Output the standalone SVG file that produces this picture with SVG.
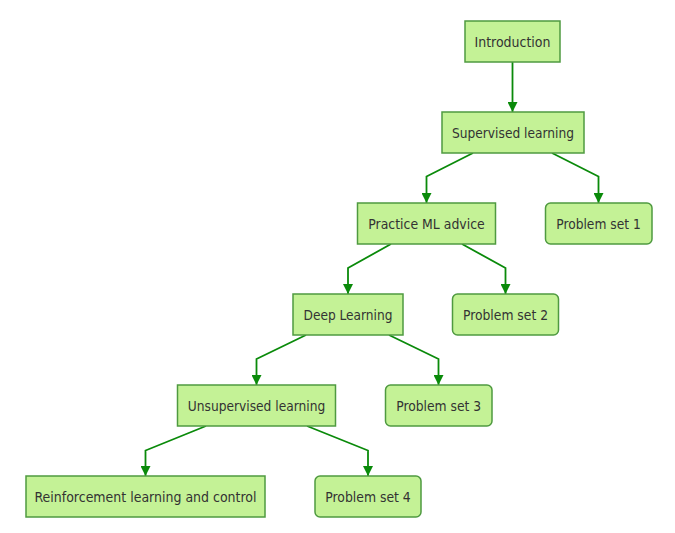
<svg xmlns="http://www.w3.org/2000/svg" width="675" height="533" viewBox="0 0 675 533">
<defs>
<marker id="arr" markerUnits="userSpaceOnUse" markerWidth="10" markerHeight="10" viewBox="0 0 10 10" refX="10" refY="5" orient="auto">
<path d="M0,0 L10,5 L0,10 Z" fill="#0a8a0a"/>
</marker>
<style>
.n rect{fill:#c4f296;stroke:#4f9a40;stroke-width:1.5}
.n text{font-family:"DejaVu Sans Condensed","DejaVu Sans",sans-serif;font-size:14px;fill:#333;text-anchor:middle}
.e path{fill:none;stroke:#0a8a0a;stroke-width:1.8;marker-end:url(#arr)}
</style>
</defs>
<rect width="675" height="533" fill="#fff"/>
<g class="e" id="connectors">
<path d="M512.5,62 L512.5,112"/>
<path d="M473,153 L426.5,176.5 L426.5,203"/>
<path d="M552,153 L598.5,176.5 L598.5,203"/>
<path d="M391,244 L348,268 L348,294"/>
<path d="M462,244 L505.5,268 L505.5,294"/>
<path d="M306,335 L256.5,359 L256.5,385"/>
<path d="M389,335 L438.5,359 L438.5,385"/>
<path d="M206,426 L145.5,450.5 L145.5,476"/>
<path d="M307,426 L368,450.5 L368,476"/>
</g>
<g class="n" id="intro"><rect x="465" y="21" width="95" height="41"/><text x="512.5" y="46.5" textLength="76" lengthAdjust="spacingAndGlyphs">Introduction</text></g>
<g class="n" id="supervised"><rect x="442" y="112" width="142" height="41"/><text x="513" y="137.5" textLength="122" lengthAdjust="spacingAndGlyphs">Supervised learning</text></g>
<g class="n" id="practice"><rect x="357.5" y="203" width="138" height="41"/><text x="426.5" y="228.5" textLength="116.5" lengthAdjust="spacingAndGlyphs">Practice ML advice</text></g>
<g class="n" id="ps1"><rect x="545.5" y="203" width="106.5" height="41" rx="5"/><text x="598.5" y="228.5" textLength="84.5" lengthAdjust="spacingAndGlyphs">Problem set 1</text></g>
<g class="n" id="deep"><rect x="293" y="294" width="110" height="41"/><text x="348" y="319.5" textLength="89" lengthAdjust="spacingAndGlyphs">Deep Learning</text></g>
<g class="n" id="ps2"><rect x="452.5" y="294" width="106" height="41" rx="5"/><text x="505.5" y="319.5" textLength="85" lengthAdjust="spacingAndGlyphs">Problem set 2</text></g>
<g class="n" id="unsupervised"><rect x="177.5" y="385" width="158" height="41"/><text x="256.5" y="410.5" textLength="137.5" lengthAdjust="spacingAndGlyphs">Unsupervised learning</text></g>
<g class="n" id="ps3"><rect x="385.5" y="385" width="106.5" height="41" rx="5"/><text x="438.7" y="410.5" textLength="85" lengthAdjust="spacingAndGlyphs">Problem set 3</text></g>
<g class="n" id="reinforcement"><rect x="26" y="476" width="239" height="41"/><text x="145.5" y="501.5" textLength="222" lengthAdjust="spacingAndGlyphs">Reinforcement learning and control</text></g>
<g class="n" id="ps4"><rect x="315" y="476" width="106" height="41" rx="5"/><text x="368" y="501.5" textLength="85.5" lengthAdjust="spacingAndGlyphs">Problem set 4</text></g>
</svg>
